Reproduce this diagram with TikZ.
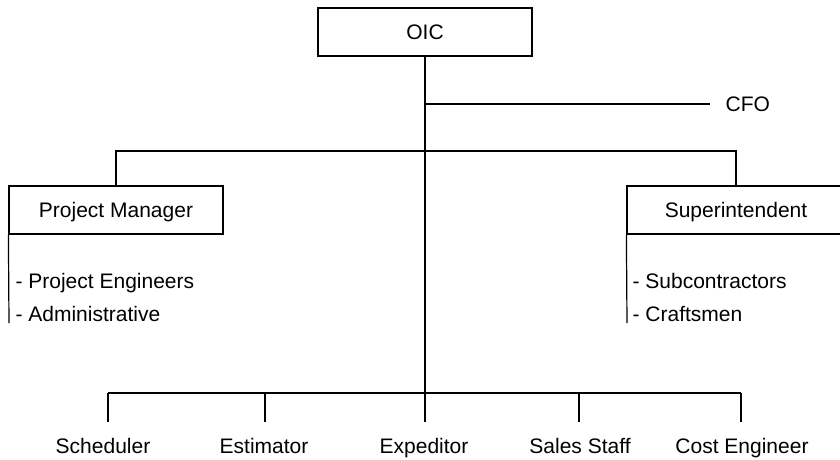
\documentclass[tikz,border=0pt]{standalone}
\usepackage{fontspec}
\setmainfont{Liberation Sans}
\begin{document}
\begin{tikzpicture}[x=1pt,y=-1pt,line width=1.2pt,
  every node/.style={font=\fontsize{21}{25}\selectfont},
  box/.style={draw,fill=white,minimum height=48pt,inner sep=0pt,
    text height=15pt,text depth=0pt},
  label/.style={inner sep=0pt,anchor=base},
  item/.style={inner sep=0pt,anchor=base west}]
\useasboundingbox (0,0) rectangle (840,459);
\clip (0,0) rectangle (840,459);

% top of the chart
\node[box,minimum width=214pt] (oic) at (425,32) {OIC};
\coordinate (cfoj) at (425,104);
\coordinate (b3) at (425,422);
\node[item] (cfo) at (725,111) {CFO};
\draw (cfoj) -- (710,104);

% second level: line managers
\coordinate (pmj) at (116,151);
\coordinate (suj) at (736,151);
\node[box,minimum width=214pt] (pm) at (116,210) {Project Manager};
\node[box,minimum width=218pt] (su) at (736,210) {Superintendent};
\draw (pm.north) -- (pmj) -- (suj) -- (su.north);

% reports under each manager
\coordinate (pmend) at (9,323);
\coordinate (suend) at (627,323);
\draw (pm.south west) -- (pmend);
\draw (su.south west) -- (suend);
\node[item] (pe) at (15,288) {- Project Engineers};
\node[item] (ad) at (15,321) {- Administrative};
\node[item] (sc) at (632,288) {- Subcontractors};
\node[item] (cr) at (632,321) {- Craftsmen};

% staff row
\coordinate (t1) at (108,393);
\coordinate (t2) at (265,393);
\coordinate (t4) at (579,393);
\coordinate (t5) at (741,393);
\coordinate (b1) at (108,422);
\coordinate (b2) at (265,422);
\coordinate (b4) at (579,422);
\coordinate (b5) at (741,422);
\draw (oic.south) -- (b3);
\draw (t1) -- (t5);
\draw (t1) -- (b1);
\draw (t2) -- (b2);
\draw (t4) -- (b4);
\draw (t5) -- (b5);
\node[label] (s1) at (103,453) {Scheduler};
\node[label] (s2) at (264,453) {Estimator};
\node[label] (s3) at (424,453) {Expeditor};
\node[label] (s4) at (580,453) {Sales Staff};
\node[label] (s5) at (742,453) {Cost Engineer};
\end{tikzpicture}
\end{document}
